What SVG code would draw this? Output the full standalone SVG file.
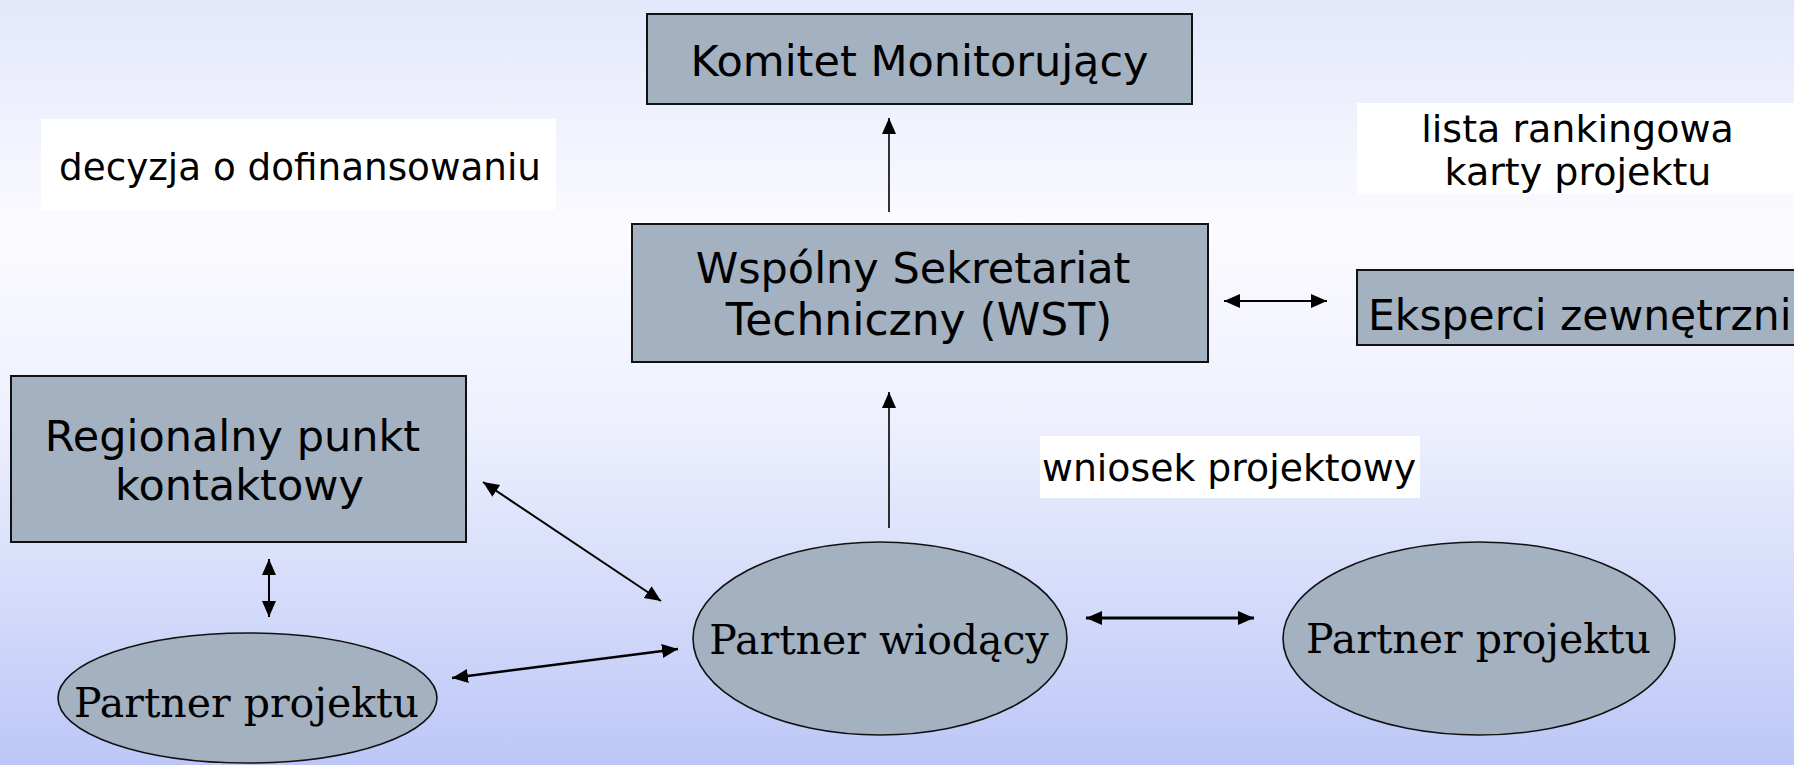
<svg xmlns="http://www.w3.org/2000/svg" width="1794" height="765" viewBox="0 0 1794 765">
<defs>
<linearGradient id="bg" x1="0" y1="0" x2="0" y2="1">
<stop offset="0" stop-color="#e3e7fa"/>
<stop offset="0.3" stop-color="#fbfbff"/>
<stop offset="0.55" stop-color="#eef0fd"/>
<stop offset="1" stop-color="#bcc7f7"/>
</linearGradient>
<marker id="ah" markerUnits="userSpaceOnUse" markerWidth="16" markerHeight="16" refX="16" refY="8" orient="auto-start-reverse" viewBox="0 0 16 16">
<path d="M0,1 L16,8 L0,15 z" fill="#000"/>
</marker>
<style>
.box{fill:#a3b1c1;stroke:#111;stroke-width:2}
.ell{fill:#a3b1c1;stroke:#111;stroke-width:1.6}
.lbl{fill:#fff}
.sans{font-family:"DejaVu Sans","Verdana",sans-serif;fill:#000}
.serif{font-family:"DejaVu Serif","Liberation Serif",serif;fill:#000;font-size:41px}
.big{font-size:43px}
.mid{font-size:38px}
.con{stroke:#000;fill:none}
</style>
</defs>
<rect x="0" y="0" width="1794" height="765" fill="url(#bg)"/>

<g id="connectors">
<line class="con" x1="889" y1="212" x2="889" y2="118" stroke-width="1.6" marker-end="url(#ah)"/>
<line class="con" x1="889" y1="528" x2="889" y2="392" stroke-width="1.6" marker-end="url(#ah)"/>
<line class="con" x1="1224" y1="301" x2="1327" y2="301" stroke-width="2" marker-start="url(#ah)" marker-end="url(#ah)"/>
<line class="con" x1="483" y1="482" x2="661" y2="601" stroke-width="2" marker-start="url(#ah)" marker-end="url(#ah)"/>
<line class="con" x1="269" y1="559" x2="269" y2="617" stroke-width="2" marker-start="url(#ah)" marker-end="url(#ah)"/>
<line class="con" x1="452" y1="678" x2="678" y2="649" stroke-width="2.6" marker-start="url(#ah)" marker-end="url(#ah)"/>
<line class="con" x1="1086" y1="618" x2="1254" y2="618" stroke-width="2.8" marker-start="url(#ah)" marker-end="url(#ah)"/>
</g>

<g id="komitet">
<rect class="box" x="647" y="14" width="545" height="90"/>
<text class="sans big" x="919.5" y="76" text-anchor="middle">Komitet Monitorujący</text>
</g>

<g id="decyzja">
<rect class="lbl" x="41" y="119" width="515" height="91"/>
<text class="sans" font-size="37.3" x="300" y="180" text-anchor="middle">decyzja o dofinansowaniu</text>
</g>

<g id="lista">
<rect class="lbl" x="1357" y="103" width="440" height="91"/>
<text class="sans mid" x="1577.5" y="142" text-anchor="middle">lista rankingowa</text>
<text class="sans mid" x="1578" y="185" text-anchor="middle">karty projektu</text>
</g>

<g id="wst">
<rect class="box" x="632" y="224" width="576" height="138"/>
<text class="sans big" x="913" y="283" text-anchor="middle">Wspólny Sekretariat</text>
<text class="sans" font-size="44" x="919" y="335" text-anchor="middle">Techniczny (WST)</text>
</g>

<g id="eksperci">
<rect class="box" x="1357" y="270" width="445" height="75"/>
<text class="sans" font-size="42.5" x="1368" y="330">Eksperci zewnętrzni</text>
</g>

<g id="wniosek">
<rect class="lbl" x="1040" y="436" width="380" height="62"/>
<text class="sans" font-size="37.8" x="1229" y="481" text-anchor="middle">wniosek projektowy</text>
</g>

<g id="regionalny">
<rect class="box" x="11" y="376" width="455" height="166"/>
<text class="sans big" x="232.5" y="451" text-anchor="middle">Regionalny punkt</text>
<text class="sans big" x="239.5" y="500" text-anchor="middle">kontaktowy</text>
</g>

<g id="partner-projektu-lewy">
<ellipse class="ell" cx="247.5" cy="698" rx="189.5" ry="65"/>
<text class="serif" x="246.5" y="717" text-anchor="middle">Partner projektu</text>
</g>

<g id="partner-wiodacy">
<ellipse class="ell" cx="880" cy="638.5" rx="187" ry="96.5"/>
<text class="serif" x="879" y="654" text-anchor="middle">Partner wiodący</text>
</g>

<g id="partner-projektu-prawy">
<ellipse class="ell" cx="1479" cy="638.5" rx="196" ry="96.5"/>
<text class="serif" x="1478.5" y="653" text-anchor="middle">Partner projektu</text>
</g>
</svg>
